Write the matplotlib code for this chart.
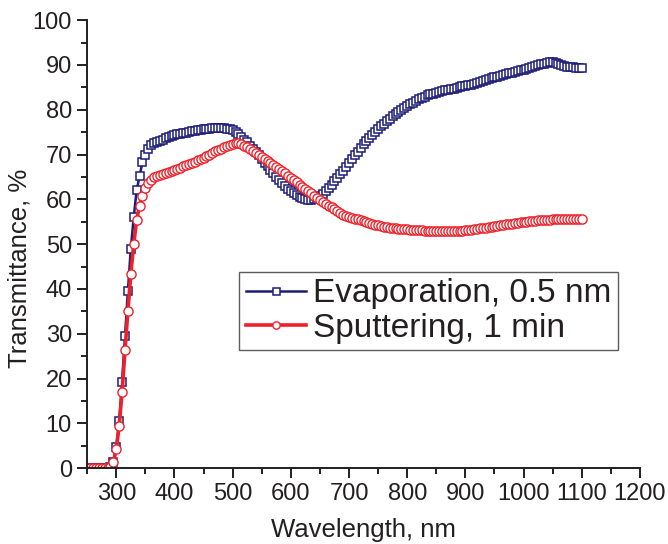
import numpy as np
import matplotlib
matplotlib.use("Agg")
from matplotlib import pyplot as plt
from matplotlib.ticker import MultipleLocator

# wavelength grid, nm (5 nm step)
wavelength = np.arange(250, 1101, 5)

# Evaporation, 0.5 nm  (transmittance, %)
evaporation = [
    0, 0, 0, 0, 0, 0, 0, 0, 0.3,
    1.3, 4.7, 10.5, 19.3, 29.5, 39.6, 49.0, 56.0, 62.0, 65.2,
    68.3, 70.0, 71.3, 72.1, 72.6, 72.9, 73.1, 73.3, 73.6, 73.9,
    74.1, 74.3, 74.5, 74.6, 74.8, 74.9, 75.0, 75.2, 75.3, 75.4,
    75.5, 75.6, 75.7, 75.8, 75.9, 76.0, 76.0, 76.0, 75.9, 75.8,
    75.6, 75.4, 75.0, 74.5, 74.0, 73.3, 72.7, 72.0, 71.3, 70.5,
    69.8, 69.0, 68.2, 67.4, 66.6, 65.8, 65.0, 64.3, 63.6, 63.0,
    62.4, 61.9, 61.4, 61.0, 60.6, 60.3, 60.0, 59.9, 59.9, 60.0,
    60.3, 60.7, 61.2, 61.8, 62.5, 63.2, 64.0, 64.8, 65.6, 66.4,
    67.3, 68.1, 69.0, 69.8, 70.6, 71.5, 72.3, 73.0, 73.7, 74.4,
    75.1, 75.7, 76.3, 76.9, 77.5, 78.0, 78.5, 79.0, 79.5, 80.0,
    80.4, 80.8, 81.2, 81.6, 82.0, 82.3, 82.6, 82.9, 83.2, 83.4,
    83.6, 83.8, 84.0, 84.1, 84.3, 84.4, 84.6, 84.7, 84.9, 85.0,
    85.2, 85.3, 85.5, 85.6, 85.8, 86.0, 86.2, 86.4, 86.6, 86.8,
    87.0, 87.2, 87.4, 87.6, 87.8, 88.0, 88.1, 88.2, 88.4, 88.6,
    88.8, 88.9, 89.1, 89.3, 89.5, 89.7, 89.9, 90.1, 90.3, 90.4,
    90.6, 90.6, 90.5, 90.2, 89.9, 89.7, 89.6, 89.5, 89.5, 89.4,
    89.4, 89.4,
]

# Sputtering, 1 min  (transmittance, %)
sputtering = [
    0, 0, 0, 0, 0, 0, 0, 0, 0.3,
    1.3, 4.2, 9.4, 17.0, 26.3, 35.0, 43.3, 50.0, 55.4, 58.5,
    60.8, 62.5, 63.6, 64.4, 64.9, 65.2, 65.5, 65.7, 65.9, 66.1,
    66.4, 66.6, 66.8, 67.1, 67.4, 67.6, 67.9, 68.1, 68.4, 68.7,
    69.0, 69.3, 69.7, 70.0, 70.3, 70.7, 71.0, 71.3, 71.6, 71.9,
    72.2, 72.4, 72.5, 72.5, 72.3, 72.0, 71.7, 71.3, 70.8, 70.3,
    69.8, 69.4, 68.9, 68.5, 68.1, 67.7, 67.2, 66.8, 66.3, 65.8,
    65.3, 64.8, 64.3, 63.8, 63.3, 62.8, 62.3, 61.8, 61.3, 60.8,
    60.3, 59.9, 59.4, 59.0, 58.6, 58.2, 57.8, 57.4, 57.0, 56.6,
    56.3, 56.1, 55.9, 55.7, 55.5, 55.3, 55.1, 54.9, 54.7, 54.5,
    54.3, 54.2, 54.0, 53.9, 53.8, 53.7, 53.6, 53.5, 53.4, 53.4,
    53.3, 53.3, 53.2, 53.2, 53.1, 53.1, 53.1, 53.0, 53.0, 53.0,
    53.0, 53.0, 52.9, 52.9, 52.9, 52.9, 52.9, 52.9, 53.0, 53.0,
    53.0, 53.1, 53.1, 53.2, 53.3, 53.4, 53.5, 53.6, 53.7, 53.8,
    53.9, 54.0, 54.1, 54.2, 54.3, 54.4, 54.5, 54.6, 54.7, 54.8,
    54.9, 55.0, 55.0, 55.1, 55.2, 55.2, 55.3, 55.3, 55.4, 55.4,
    55.4, 55.5, 55.5, 55.5, 55.5, 55.5, 55.6, 55.6, 55.6, 55.6,
    55.6, 55.6,
]

series_labels = ["Evaporation, 0.5 nm", "Sputtering, 1 min"]

plt.rcParams['font.family'] = ['Liberation Sans', 'DejaVu Sans']
text_col = "#231f20"
navy = "#1c1c78"
red = "#f0202a"

fig = plt.figure(figsize=(6.68, 5.44), dpi=100)
ax = fig.add_axes([0.1305, 0.1395, 0.8275, 0.8235])

ax.plot(wavelength, evaporation, color=navy, lw=1.8, marker="s", ms=6.3,
        mfc="white", mec=navy, mew=1.1, label=series_labels[0])
ax.plot(wavelength, sputtering, color=red, lw=2.6, marker="o", ms=6.6,
        mfc="white", mec=red, mew=1.0, label=series_labels[1])

ax.set_xlim(250, 1200)
ax.set_ylim(0, 100)
ax.xaxis.set_major_locator(MultipleLocator(100))
ax.xaxis.set_minor_locator(MultipleLocator(50))
ax.yaxis.set_major_locator(MultipleLocator(10))
ax.yaxis.set_minor_locator(MultipleLocator(5))

for s in ["top", "right"]:
    ax.spines[s].set_visible(False)
for s in ["left", "bottom"]:
    ax.spines[s].set_linewidth(1.4)
    ax.spines[s].set_color(text_col)

ax.tick_params(which="major", direction="out", length=7, width=1.4,
               labelsize=17, colors=text_col, pad=4)
ax.tick_params(which="minor", direction="out", length=4, width=1.4,
               colors=text_col)

ax.set_xlabel("Wavelength, nm", fontsize=18.5, color=text_col)
ax.set_ylabel("Transmittance, %", fontsize=18.5, color=text_col)
ax.xaxis.set_label_coords(0.5, -0.112)
ax.yaxis.set_label_coords(-0.1, 0.446)

leg = ax.legend(loc="upper left", bbox_to_anchor=(0.358, 0.5006),
                bbox_transform=fig.transFigure, fontsize=24, numpoints=1,
                handlelength=1.8, handletextpad=0.22, labelspacing=0.1,
                borderpad=0.2, borderaxespad=0, fancybox=False,
                frameon=True, markerscale=0.8)
leg.get_frame().set_edgecolor("#333333")
leg.get_frame().set_linewidth(1.0)
for t in leg.get_texts():
    t.set_color(text_col)

fig.savefig("out.png", dpi=100)
